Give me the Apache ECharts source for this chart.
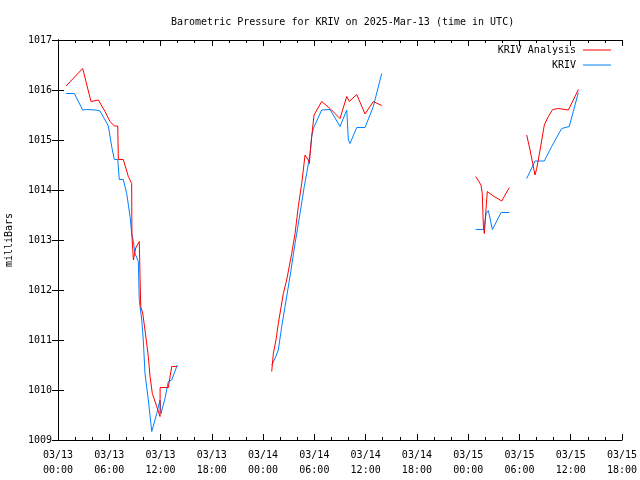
<!DOCTYPE html>
<html><head><meta charset="utf-8">
<script src="https://cdn.jsdelivr.net/npm/echarts@6/dist/echarts.min.js"></script>
<style>html,body{margin:0;padding:0;background:#fff}#c{width:640px;height:480px}</style>
</head><body><div id="c"></div>
<script>
// hours since 2025-03-13 00:00 UTC; null = gap
var analysisHours = [0.94,2.89,3.86,4.72,5.50,6.09,6.59,6.99,7.06,7.64,8.23,8.62,8.65,8.82,9.09,9.51,9.60,9.68,9.91,10.18,10.57,10.77,11.04,11.55,11.94,11.95,12.91,13.31,13.96,
  19.0,
  25.01,25.20,25.51,25.78,26.37,26.76,27.35,27.74,28.12,28.52,28.91,29.29,29.41,29.69,29.96,30.86,31.83,33.00,33.79,34.09,34.96,35.93,36.90,37.88,
  43.0,
  48.88,49.50,49.65,49.77,49.89,50.09,50.24,50.94,51.93,52.81,
  54.0,
  54.85,55.24,55.55,55.82,56.02,56.41,56.91,57.38,57.89,58.54,59.72,60.30,60.89];
var analysisValues = [1016.08,1016.43,1015.77,1015.80,1015.57,1015.37,1015.28,1015.28,1014.61,1014.61,1014.27,1014.13,1013.10,1012.60,1012.84,1012.97,1012.27,1011.67,1011.54,1011.20,1010.67,1010.27,1009.93,1009.67,1009.47,1010.05,1010.05,1010.47,1010.47,
  null,
  1010.37,1010.73,1011.00,1011.33,1011.93,1012.20,1012.73,1013.13,1013.67,1014.13,1014.70,1014.60,1014.53,1015.07,1015.50,1015.77,1015.63,1015.43,1015.87,1015.77,1015.91,1015.52,1015.77,1015.69,
  null,
  1014.27,1014.10,1013.93,1013.30,1013.13,1013.63,1013.97,1013.88,1013.78,1014.05,
  null,
  1015.10,1014.80,1014.53,1014.30,1014.43,1014.80,1015.30,1015.47,1015.61,1015.63,1015.60,1015.80,1016.01];

var obsHours = [0.94,1.91,2.89,3.35,4.41,4.92,5.89,6.28,6.59,6.99,7.17,7.64,8.04,8.43,8.62,8.82,9.01,9.40,9.51,9.80,9.98,10.18,10.57,10.97,11.35,11.55,11.94,12.05,12.52,12.91,13.31,13.96,
  19.0,
  25.01,25.39,25.78,26.18,26.57,27.15,27.74,28.32,28.82,29.10,29.49,29.69,29.88,30.86,31.83,33.00,33.79,33.98,34.17,34.96,35.93,36.90,37.88,
  43.0,
  48.88,49.86,50.09,50.36,50.83,51.85,52.81,
  54.0,
  54.85,55.24,55.82,56.91,57.77,58.94,59.83,60.30,60.89];
var obsValues = [1015.93,1015.93,1015.60,1015.61,1015.60,1015.58,1015.28,1014.87,1014.61,1014.61,1014.21,1014.21,1013.93,1013.47,1013.14,1012.97,1012.73,1012.57,1011.80,1011.40,1011.00,1010.33,1009.80,1009.17,1009.40,1009.53,1009.80,1009.53,1009.83,1010.17,1010.20,1010.50,
  null,
  1010.50,1010.63,1010.80,1011.27,1011.67,1012.27,1012.93,1013.53,1014.07,1014.33,1014.73,1015.07,1015.23,1015.60,1015.61,1015.27,1015.60,1015.00,1014.93,1015.25,1015.25,1015.67,1016.33,
  null,
  1013.21,1013.21,1013.53,1013.59,1013.21,1013.55,1013.55,
  null,
  1014.23,1014.37,1014.58,1014.58,1014.87,1015.23,1015.27,1015.57,1015.95];

var seriesNames = ['KRIV Analysis', 'KRIV'];
var startDay = 13;

function pairs(h, v) { return h.map(function (t, i) { return [t, v[i] === null ? '-' : v[i]]; }); }
function pad(n) { return (n < 10 ? '0' : '') + n; }

var font = 'DejaVu Sans Mono';
var chart = echarts.init(document.getElementById('c'), null, { renderer: 'canvas' });
var xCommon = {
  type: 'value', min: 0, max: 66, interval: 6,
  axisLine: { show: true, lineStyle: { color: '#000', width: 1 } },
  axisTick: { show: true, inside: true, length: 6, lineStyle: { color: '#000' } },
  minorTick: { show: true, splitNumber: 3, length: 3, lineStyle: { color: '#000' } },
  splitLine: { show: false }
};
var yCommon = {
  type: 'value', min: 1009, max: 1017, interval: 1,
  axisLine: { show: true, lineStyle: { color: '#000', width: 1 } },
  axisTick: { show: true, inside: true, length: 6, lineStyle: { color: '#000' } },
  splitLine: { show: false }
};
chart.setOption({
  animation: false,
  backgroundColor: '#fff',
  title: {
    text: 'Barometric Pressure for KRIV on 2025-Mar-13 (time in UTC)',
    left: 166, top: 12,
    textStyle: { fontFamily: font, fontSize: 10, fontWeight: 'normal', color: '#000' }
  },
  legend: {
    orient: 'vertical', right: 24, top: 40, align: 'right',
    itemWidth: 28, itemHeight: 1, itemGap: 5, icon: 'rect',
    textStyle: { fontFamily: font, fontSize: 10, color: '#000', padding: [0, 2, 0, 0] },
    data: seriesNames
  },
  grid: { left: 58, right: 18, top: 40, bottom: 40, containLabel: false, outerBoundsMode: 'none' },
  xAxis: [
    Object.assign({}, xCommon, {
      position: 'bottom',
      axisLabel: {
        fontFamily: font, fontSize: 10, color: '#000', margin: 8, lineHeight: 15,
        formatter: function (v) {
          var d = startDay + Math.floor(v / 24);
          return '03/' + pad(d) + '\n' + pad(v % 24) + ':00';
        }
      }
    }),
    Object.assign({}, xCommon, { position: 'top', axisLabel: { show: false } })
  ],
  yAxis: [
    Object.assign({}, yCommon, {
      position: 'left',
      name: 'milliBars', nameLocation: 'middle', nameGap: 44,
      nameTextStyle: { fontFamily: font, fontSize: 10, color: '#000' },
      axisLabel: { fontFamily: font, fontSize: 10, color: '#000', margin: 6,
        formatter: function (v) { return String(v); } }
    }),
    Object.assign({}, yCommon, { position: 'right', axisLabel: { show: false } })
  ],
  series: [
    {
      name: seriesNames[0], type: 'line', data: pairs(analysisHours, analysisValues),
      symbol: 'none', connectNulls: false, color: '#ff0000',
      lineStyle: { width: 1, color: '#ff0000' }, z: 3
    },
    {
      name: seriesNames[1], type: 'line', data: pairs(obsHours, obsValues),
      symbol: 'none', connectNulls: false, color: '#0080ff',
      lineStyle: { width: 1, color: '#0080ff' }, z: 2
    }
  ]
});
</script></body></html>
